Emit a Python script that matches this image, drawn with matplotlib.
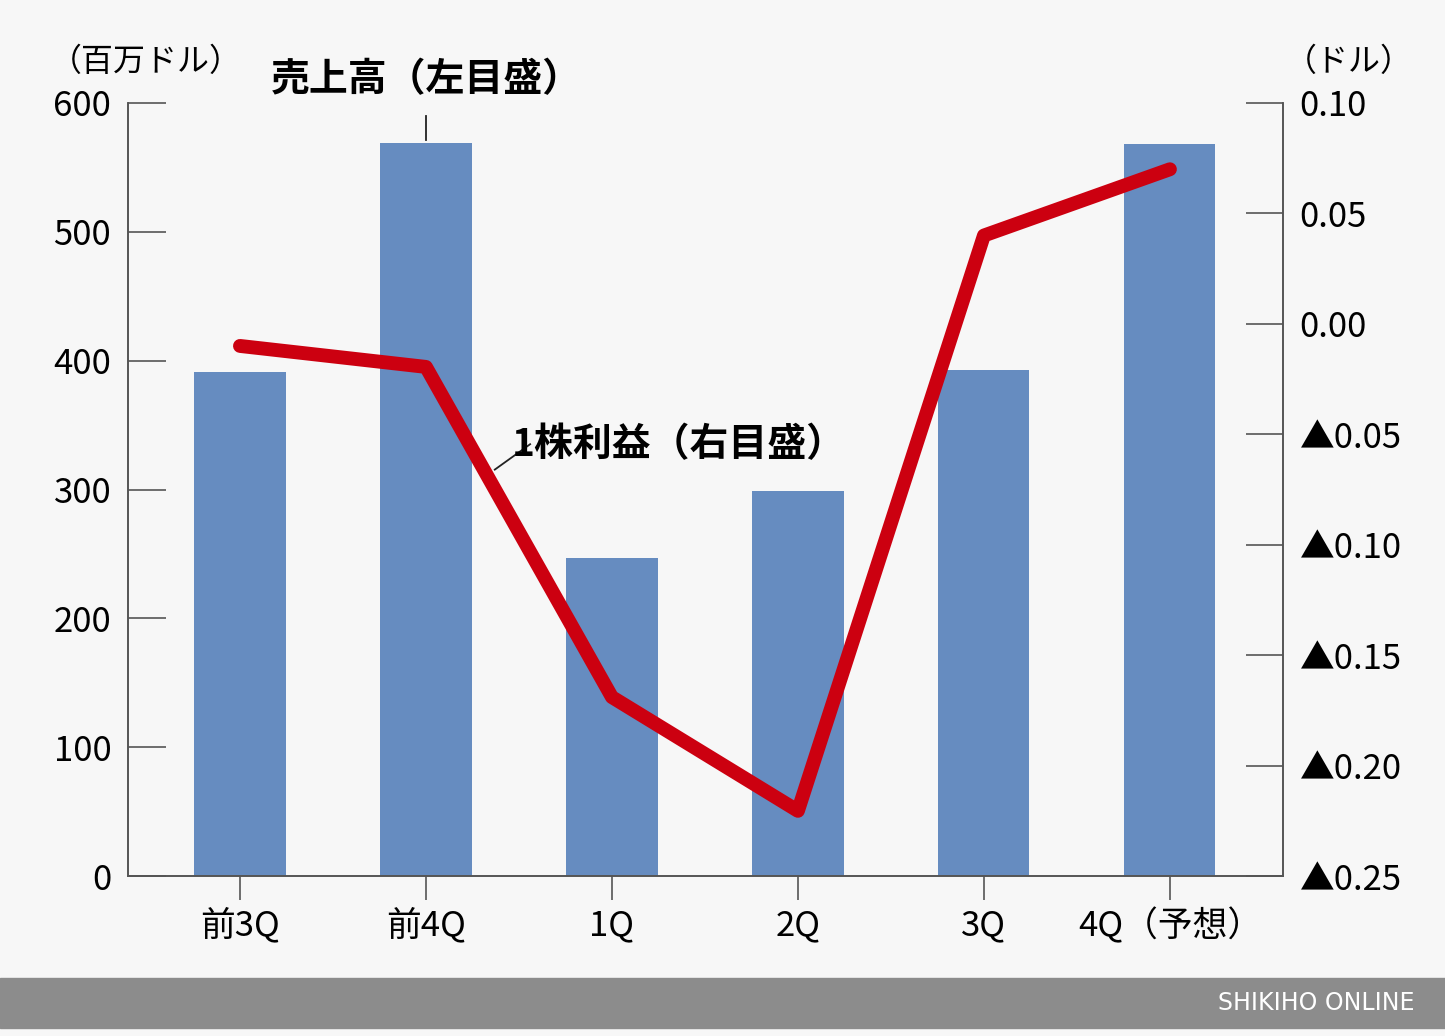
import matplotlib.pyplot as plt
import numpy as np

plt.rcParams['font.family'] = ['Noto Sans CJK JP', 'DejaVu Sans']

quarters = ['前3Q', '前4Q', '1Q', '2Q', '3Q', '4Q（予想）']
sales = [391, 569, 247, 299, 393, 568]
eps = [-0.010, -0.0195, -0.169, -0.2205, 0.040, 0.070]
left_ticks = [0, 100, 200, 300, 400, 500, 600]
right_ticks = [0.10, 0.05, 0.00, -0.05, -0.10, -0.15, -0.20, -0.25]
right_labels = ['0.10', '0.05', '0.00', '▲0.05', '▲0.10', '▲0.15', '▲0.20', '▲0.25']

bg = '#f7f7f7'
fig = plt.figure(figsize=(14.45, 10.36), dpi=100, facecolor=bg)
ax = fig.add_axes([128/1445, 160/1036, (1283-128)/1445, (876-103)/1036])
ax.set_facecolor(bg)
x = np.arange(len(quarters))
ax.bar(x, sales, width=0.49, color='#668cc0', zorder=2)
ax.set_xlim(-0.602, 5.608)
ax.set_ylim(0, 600)
ax.set_yticks(left_ticks)
ax.set_yticklabels([str(t) for t in left_ticks], fontsize=25)
ax.tick_params(axis='y', direction='in', length=27, width=1.2, color='#555555', pad=12)
ax.set_xticks(x)
ax.set_xticklabels(quarters, fontsize=25)
ax.tick_params(axis='x', direction='out', length=17, width=1.2, color='#555555', pad=6)
for s in ['top']:
    ax.spines[s].set_visible(False)
for s in ['left', 'right', 'bottom']:
    ax.spines[s].set_color('#555555')
    ax.spines[s].set_linewidth(1.2)

ax2 = ax.twinx()
ax2.plot(x, eps, color='#cc0010', lw=10, solid_capstyle='round', solid_joinstyle='round', zorder=3)
ax2.set_ylim(-0.25, 0.10)
ax2.set_yticks(right_ticks)
ax2.set_yticklabels(right_labels, fontsize=25)
ax2.tick_params(axis='y', direction='in', length=27, width=1.2, color='#555555', pad=12)
ax2.spines['top'].set_visible(False)
for s in ['left', 'right', 'bottom']:
    ax2.spines[s].set_color('#555555')
    ax2.spines[s].set_linewidth(1.2)

fig.text(50/1445, 1-62/1036, '（百万ドル）', fontsize=23, va='center', ha='left')
fig.text(1285/1445, 1-62/1036, '（ドル）', fontsize=23, va='center', ha='left')

ax.text(1, 618, '売上高（左目盛）', fontsize=28, ha='center', va='center', fontweight='bold')
ax.plot([1, 1], [571, 590], color='#222222', lw=1.3, clip_on=False)
ax2.text(2.36, -0.0545, '1株利益（右目盛）', fontsize=28, ha='center', va='center', fontweight='bold')
ax2.plot([1.37, 1.56], [-0.066, -0.0545], color='#222222', lw=1.3)

fig.patches.append(plt.Rectangle((0, 8/1036), 1, 50/1036, transform=fig.transFigure,
                                 color='#8c8c8c', zorder=0))
fig.text(1415/1445, 1-1003/1036, 'SHIKIHO ONLINE', fontsize=17, color='white',
         ha='right', va='center', family='DejaVu Sans')

fig.savefig('out.png', dpi=100, facecolor=bg)
